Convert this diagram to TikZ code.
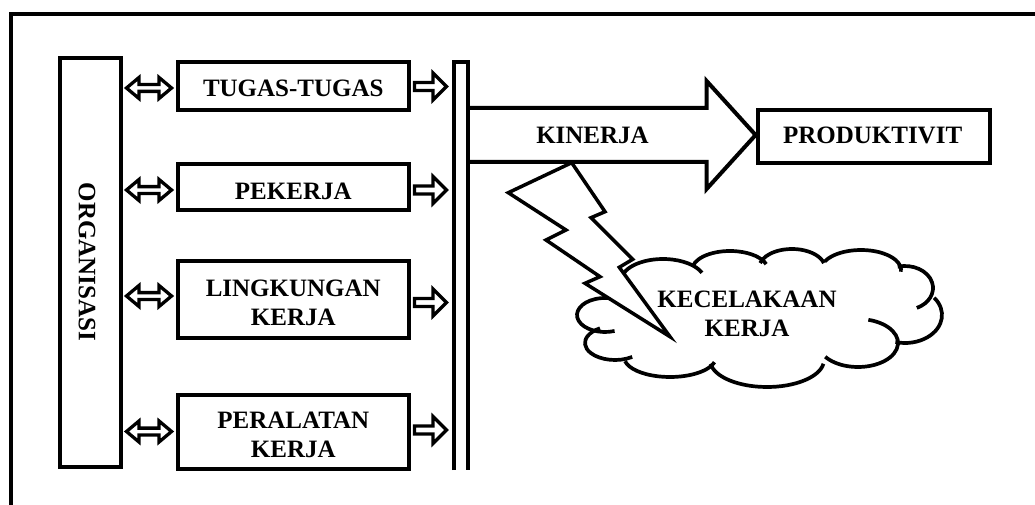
\documentclass[tikz,border=0pt]{standalone}
\usepackage{fontspec}
\setmainfont{Liberation Serif}
\usetikzlibrary{calc}
\newcommand\blockR[2]{\draw[blk] let \p1=(#1), \p2=(#2) in
  (\x1,\y1+4pt) -- (\x2-13.5pt,\y1+4pt) -- (\x2-13.5pt,\y1+13.5pt) -- (\x2,\y1)
  -- (\x2-13.5pt,\y1-13.5pt) -- (\x2-13.5pt,\y1-4pt) -- (\x1,\y1-4pt) -- cycle;}
\newcommand\blockD[2]{\draw[blk] let \p1=(#1), \p2=(#2) in
  (\x1,\y1) -- (\x1+12.5pt,\y1+10.5pt) -- (\x1+12.5pt,\y1+3.4pt) -- (\x2-12.5pt,\y1+3.4pt)
  -- (\x2-12.5pt,\y1+10.5pt) -- (\x2,\y1) -- (\x2-12.5pt,\y1-10.5pt) -- (\x2-12.5pt,\y1-3.4pt)
  -- (\x1+12.5pt,\y1-3.4pt) -- (\x1+12.5pt,\y1-10.5pt) -- cycle;}
\newcommand\cloudlobe[6]{\draw[cloudline] (#1,#2) ++(#5:#3 and #4)
  arc[start angle=#5, end angle=#6, x radius=#3, y radius=#4];}
\begin{document}
\begin{tikzpicture}[x=1pt,y=-1pt,
  box/.style={draw, line width=4pt, inner sep=0pt},
  txt/.style={inner sep=0pt, font=\bfseries\fontsize{25}{29}\selectfont, align=center},
  blk/.style={draw, line width=3.3pt, fill=white, line join=miter},
  cloudline/.style={line width=3.7pt},
  heavy/.style={line width=4pt, line join=miter}]
\useasboundingbox (0,0) rectangle (1035,505);
% outer frame (cropped)
\draw[line width=4.5pt] (11,520) -- (11,14) -- (1050,14);

% boxes
\node[box, minimum width=61pt, minimum height=409pt] (org) at (90.8,262.5) {};
\node[txt, rotate=-90] (orgt) at (87,262) {ORGANISASI};
\node[box, minimum width=231.5pt, minimum height=48pt] (t1) at (293.3,86) {};
\node[box, minimum width=231.5pt, minimum height=46.5pt] (t2) at (293.3,187.2) {};
\node[box, minimum width=231.5pt, minimum height=76.7pt] (t3) at (293.3,299.7) {};
\node[box, minimum width=231.5pt, minimum height=74pt] (t4) at (293.3,431.7) {};
\node[box, minimum width=232pt, minimum height=53pt] (prod) at (873.6,136.5) {};
\node[txt] (t1l) at ($(t1.center)+(0,2)$) {TUGAS-TUGAS};
\node[txt] (t2l) at ($(t2.center)+(0,3.8)$) {PEKERJA};
\node[txt] (t3l) at ($(t3.center)+(0,2.8)$) {LINGKUNGAN\\KERJA};
\node[txt] (t4l) at ($(t4.center)+(0,3.2)$) {PERALATAN\\KERJA};
\node[txt] (prodl) at ($(prod.center)+(-1,-0.7)$) {PRODUKTIVIT};

% collecting bar
\node[inner sep=0pt, minimum width=14.5pt, minimum height=408pt] (bar) at (461,266) {};
\draw[heavy] (bar.south west) -- (bar.north west) -- (bar.north east) -- (bar.south east);

% double arrows organisasi <-> boxes
\coordinate (d1a) at ($(org.east |- t1.west)+(3.2,2)$);
\coordinate (d1b) at ($(t1.west)+(-4,2)$);
\coordinate (d2a) at ($(org.east |- t2.west)+(3.2,2.8)$);
\coordinate (d2b) at ($(t2.west)+(-4,2.8)$);
\coordinate (d3a) at ($(org.east |- t3.west)+(3.2,-3.7)$);
\coordinate (d3b) at ($(t3.west)+(-4,-3.7)$);
\coordinate (d4a) at ($(org.east |- t4.west)+(3.2,-0.2)$);
\coordinate (d4b) at ($(t4.west)+(-4,-0.2)$);
\blockD{d1a}{d1b}
\blockD{d2a}{d2b}
\blockD{d3a}{d3b}
\blockD{d4a}{d4b}

% right arrows boxes -> bar
\coordinate (r1a) at ($(t1.east)+(3.5,0.5)$);
\coordinate (r1b) at ($(bar.west |- t1.east)+(-7,0.5)$);
\coordinate (r2a) at ($(t2.east)+(3.5,2.8)$);
\coordinate (r2b) at ($(bar.west |- t2.east)+(-7,2.8)$);
\coordinate (r3a) at ($(t3.east)+(3.5,2.8)$);
\coordinate (r3b) at ($(bar.west |- t3.east)+(-7,2.8)$);
\coordinate (r4a) at ($(t4.east)+(3.5,-1.7)$);
\coordinate (r4b) at ($(bar.west |- t4.east)+(-7,-1.7)$);
\blockR{r1a}{r1b}
\blockR{r2a}{r2b}
\blockR{r3a}{r3b}
\blockR{r4a}{r4b}

% big KINERJA arrow
\coordinate (ka) at (bar.east |- 0,135);
\coordinate (kb) at (prod.west |- ka);
\draw[heavy] let \p1=(ka), \p2=(kb) in
  (\x1,\y1+27pt) -- (\x2-49pt,\y1+27pt) -- (\x2-49pt,\y1+54pt) -- (\x2,\y1)
  -- (\x2-49pt,\y1-54pt) -- (\x2-49pt,\y1-27pt) -- (\x1,\y1-27pt);
\node[txt] (kin) at (592.5,135.5) {KINERJA};

% cloud
\cloudlobe{663}{281}{42}{22}{-175}{-22}
\cloudlobe{730}{270}{38}{19}{-168}{-18}
\cloudlobe{792}{268}{33}{19}{-165}{-15}
\cloudlobe{861}{270}{40}{20}{-155}{5}
\cloudlobe{905}{288}{28}{22}{-105}{65}
\cloudlobe{905}{315}{37}{28}{-38}{105}
\cloudlobe{858}{343}{40}{24}{-75}{145}
\cloudlobe{767}{360}{57}{27}{8}{172}
\cloudlobe{670}{357}{46}{20}{15}{168}
\cloudlobe{615}{343}{30}{17}{55}{240}
\cloudlobe{605}{315}{28}{17}{70}{300}
\node[txt] (kec) at (747,313.5) {KECELAKAAN\\KERJA};

% lightning bolt
\draw[line width=3.5pt, fill=white, line join=miter]
  (571.7,162.7) -- (508.3,192.7) -- (566,230) -- (546,240) -- (600,276.7)
  -- (585,283.3) -- (670,336.7) -- (619.3,267.3) -- (632.7,259.3)
  -- (591,217.7) -- (605,211.7) -- cycle;
\end{tikzpicture}
\end{document}
